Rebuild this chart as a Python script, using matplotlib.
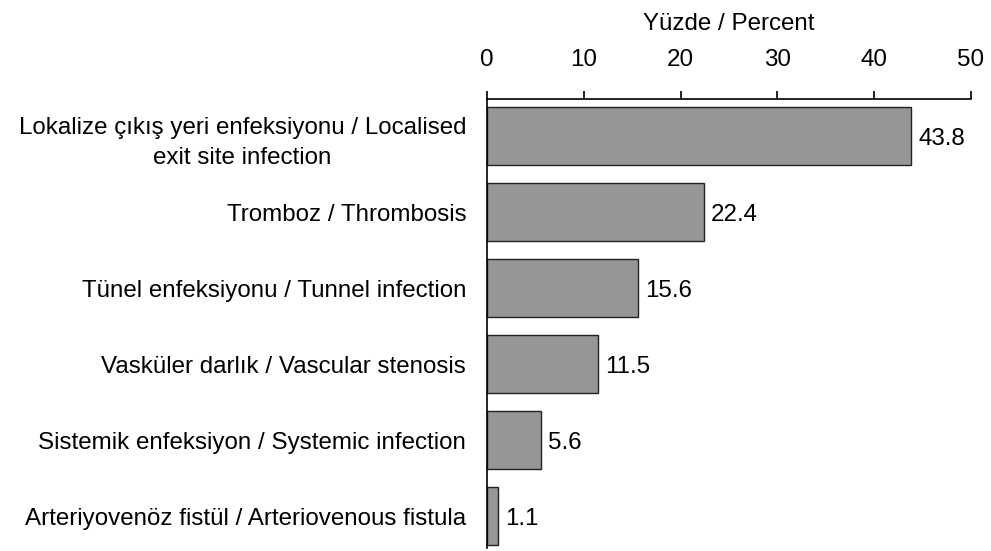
import matplotlib.pyplot as plt

categories = [
    'Lokalize çıkış yeri enfeksiyonu / Localised\nexit site infection',
    'Tromboz / Thrombosis',
    'Tünel enfeksiyonu / Tunnel infection',
    'Vasküler darlık / Vascular stenosis',
    'Sistemik enfeksiyon / Systemic infection',
    'Arteriyovenöz fistül / Arteriovenous fistula',
]
values = [43.8, 22.4, 15.6, 11.5, 5.6, 1.1]
ticks = [0, 10, 20, 30, 40, 50]

plt.rcParams['font.family'] = ['Liberation Sans', 'DejaVu Sans']
fs = 17.4

fig = plt.figure(figsize=(9.91, 5.51), dpi=100)
ax = fig.add_axes([0.4914, 0.0054, 0.4884, 0.8149])

y = list(range(len(categories)))
ax.barh(y, values, height=0.76, color='#969696', edgecolor='#222222', linewidth=1)
for yi, v in zip(y, values):
    ax.text(v + 0.75, yi, f'{v:.1f}', va='center_baseline', ha='left', fontsize=fs)

ax.set_xlim(0, 50)
ax.set_ylim(5.42, -0.487)
ax.set_xticks(ticks)
ax.xaxis.tick_top()
ax.xaxis.set_label_position('top')
ax.set_xlabel('Yüzde / Percent', fontsize=fs, labelpad=14)
ax.tick_params(axis='x', direction='out', length=6, width=1.2, labelsize=fs, pad=14)
ax.set_yticks(y)
ax.set_yticklabels(categories, fontsize=fs, ha='right')
for lbl in ax.get_yticklabels():
    lbl.set_multialignment('center')
    lbl.set_linespacing(1.5)
ax.tick_params(axis='y', length=0, pad=15)

ax.spines['right'].set_visible(False)
ax.spines['bottom'].set_visible(False)
ax.spines['left'].set_linewidth(1.2)
ax.spines['top'].set_linewidth(1.2)

fig.savefig('out.png', dpi=100)
